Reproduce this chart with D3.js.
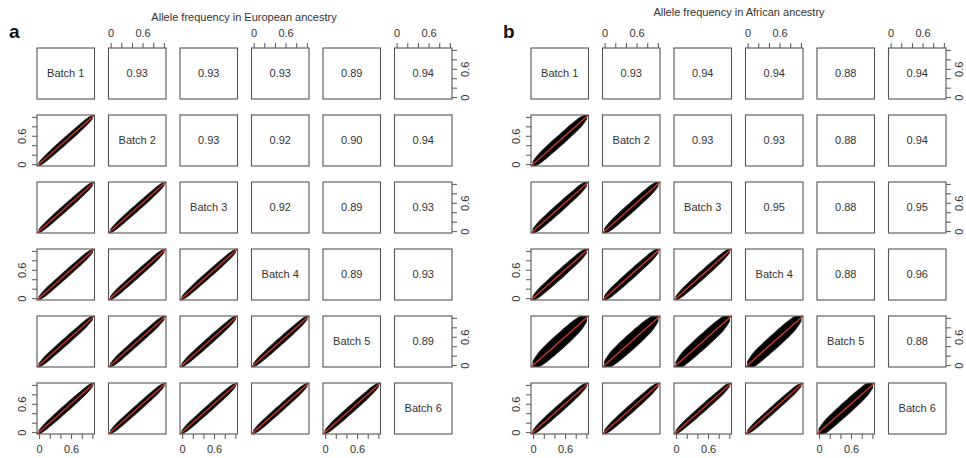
<!DOCTYPE html>
<html>
<head>
<meta charset="utf-8">
<script src="https://cdn.jsdelivr.net/npm/d3@7"></script>
<style>
  body { margin: 0; background: #fff; }
  svg { display: block; font-family: "Liberation Sans", Arial, sans-serif; }
</style>
</head>
<body>
<svg id="chart" width="966" height="458"></svg>
<script>
const batches = ["Batch 1", "Batch 2", "Batch 3", "Batch 4", "Batch 5", "Batch 6"];

// upper triangle correlations, row by row (row i holds columns i+1..5)
const corEuropean = [
    [0.93, 0.93, 0.93, 0.89, 0.94],
    [0.93, 0.92, 0.90, 0.94],
    [0.92, 0.89, 0.93],
    [0.89, 0.93],
    [0.89]
];
const corAfrican = [
    [0.93, 0.94, 0.94, 0.88, 0.94],
    [0.93, 0.93, 0.88, 0.94],
    [0.95, 0.88, 0.95],
    [0.88, 0.96],
    [0.88]
];

// lower triangle: half-width of the point cloud around y = x (row i holds columns 0..i-1)
const spreadEuropean = [
    [],
    [0.078],
    [0.078, 0.078],
    [0.080, 0.080, 0.078],
    [0.086, 0.086, 0.084, 0.084],
    [0.084, 0.082, 0.082, 0.082, 0.090]
];
const spreadAfrican = [
    [],
    [0.125],
    [0.105, 0.115],
    [0.105, 0.105, 0.095],
    [0.190, 0.190, 0.175, 0.175],
    [0.095, 0.095, 0.085, 0.082, 0.160]
];

// shape of the cloud along the diagonal
const profileX = [0, 0.04, 0.12, 0.25, 0.4, 0.5, 0.6, 0.75, 0.88, 0.96, 1];
const profileW = [0.4, 0.6, 0.85, 0.95, 1, 1, 1, 0.95, 0.85, 0.6, 0.4];

const tickValues = [0, 0.2, 0.4, 0.6, 0.8, 1.0];
const tickLabels = [0, 0.6];
const axisDomain = [-0.04, 1.04];

const panels = [
    { letter: "a", title: "Allele frequency in European ancestry", cor: corEuropean, spread: spreadEuropean,
      x0: 37, titleX: 244, titleY: 21, letterX: 9 },
    { letter: "b", title: "Allele frequency in African ancestry", cor: corAfrican, spread: spreadAfrican,
      x0: 531, titleX: 739, titleY: 16, letterX: 503 }
];

const cellW = 57.5, cellH = 51, colStep = 71.5, rowStep = 67, gridTop = 48;
const textColor = "#333", boxColor = "#555", redLine = "#c8352c";

const svg = d3.select("#chart");

const xs = d3.scaleLinear().domain(axisDomain).range([0, cellW]);
const ys = d3.scaleLinear().domain(axisDomain).range([cellH, 0]);
const fmt = d => tickLabels.includes(d) ? (d === 0 ? "0" : String(d)) : "";

const profile = profileX.map((x, k) => ({ x, w: profileW[k] }));
const clampY = v => Math.max(axisDomain[0] + 0.015, Math.min(axisDomain[1] - 0.015, v));

function styleAxis(g) {
    g.select(".domain").remove();
    g.selectAll("line").attr("stroke", boxColor);
    g.selectAll("text").attr("fill", textColor).attr("font-size", 11)
        .attr("font-family", "Liberation Sans, Arial, sans-serif");
}

panels.forEach(p => {
    const pg = svg.append("g");

    pg.append("text")
        .attr("x", p.titleX).attr("y", p.titleY)
        .attr("text-anchor", "middle")
        .attr("font-size", 11)
        .attr("fill", textColor)
        .text(p.title);

    pg.append("text")
        .attr("x", p.letterX).attr("y", 38)
        .attr("font-size", 19)
        .attr("font-weight", "bold")
        .attr("fill", "#111")
        .text(p.letter);

    for (let i = 0; i < 6; i++) {
        for (let j = 0; j < 6; j++) {
            const cx = p.x0 + j * colStep, cy = gridTop + i * rowStep;
            const cell = pg.append("g").attr("transform", `translate(${cx},${cy})`);

            if (i > j) {
                const w = p.spread[i][j];
                const area = d3.area()
                    .x(d => xs(d.x))
                    .y0(d => ys(clampY(d.x - w * d.w)))
                    .y1(d => ys(clampY(d.x + w * d.w)))
                    .curve(d3.curveCatmullRom);
                cell.append("path")
                    .datum(profile)
                    .attr("d", area)
                    .attr("fill", "#000")
                    .attr("stroke", "#1a1a1a")
                    .attr("stroke-width", 1.2)
                    .attr("stroke-linejoin", "round");
                cell.append("line")
                    .attr("x1", xs(axisDomain[0])).attr("y1", ys(axisDomain[0]))
                    .attr("x2", xs(axisDomain[1])).attr("y2", ys(axisDomain[1]))
                    .attr("stroke", redLine)
                    .attr("stroke-width", 1.5);
            } else {
                const label = i === j ? batches[i] : p.cor[i][j - i - 1].toFixed(2);
                cell.append("text")
                    .attr("x", cellW / 2).attr("y", cellH / 2)
                    .attr("dy", "0.35em")
                    .attr("text-anchor", "middle")
                    .attr("font-size", 11)
                    .attr("fill", textColor)
                    .text(label);
            }

            cell.append("rect")
                .attr("x", 0).attr("y", 0)
                .attr("width", cellW).attr("height", cellH)
                .attr("fill", "none")
                .attr("stroke", boxColor)
                .attr("stroke-width", 1.1);

            if (i === 0 && j % 2 === 1) {
                cell.append("g")
                    .call(d3.axisTop(xs).tickValues(tickValues).tickFormat(fmt).tickSize(5).tickPadding(6))
                    .call(styleAxis);
            }
            if (i === 5 && j % 2 === 0) {
                cell.append("g")
                    .attr("transform", `translate(0,${cellH})`)
                    .call(d3.axisBottom(xs).tickValues(tickValues).tickFormat(fmt).tickSize(5).tickPadding(6))
                    .call(styleAxis);
            }
            if (j === 0 && i % 2 === 1) {
                cell.append("g")
                    .call(d3.axisLeft(ys).tickValues(tickValues).tickFormat(fmt).tickSize(5))
                    .call(styleAxis)
                    .call(g => g.selectAll("text")
                        .attr("transform", "rotate(-90)")
                        .attr("text-anchor", "middle")
                        .attr("x", 0).attr("y", -11).attr("dy", 0));
            }
            if (j === 5 && i % 2 === 0) {
                cell.append("g")
                    .attr("transform", `translate(${cellW},0)`)
                    .call(d3.axisRight(ys).tickValues(tickValues).tickFormat(fmt).tickSize(5))
                    .call(styleAxis)
                    .call(g => g.selectAll("text")
                        .attr("transform", "rotate(-90)")
                        .attr("text-anchor", "middle")
                        .attr("x", 0).attr("y", 17).attr("dy", 0));
            }
        }
    }
});
</script>
</body>
</html>
